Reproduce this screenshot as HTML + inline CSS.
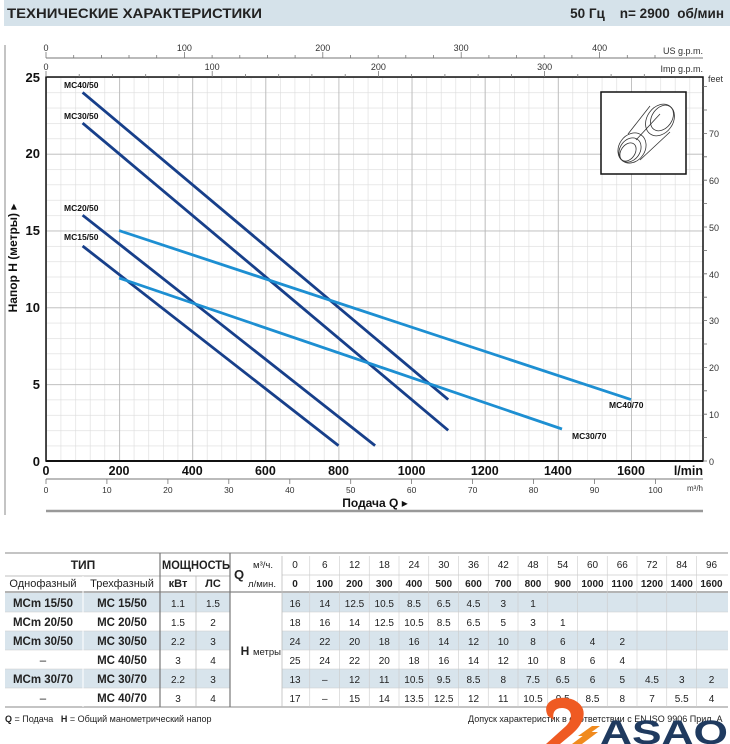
<!DOCTYPE html>
<html><head><meta charset="utf-8"><style>
html,body{margin:0;padding:0;background:#fff;}
svg{display:block;font-family:"Liberation Sans","DejaVu Sans",sans-serif;}
</style></head><body>
<svg width="730" height="744" viewBox="0 0 730 744" xmlns="http://www.w3.org/2000/svg">
<defs>
<pattern id="mn" patternUnits="userSpaceOnUse" x="46" y="77" width="14.625" height="15.36">
<path d="M0,0 V15.36 M0,0 H14.625" stroke="#dcdcdc" stroke-width="1.2" fill="none"/>
</pattern>
<pattern id="mj" patternUnits="userSpaceOnUse" x="46" y="77" width="73.125" height="76.8">
<path d="M0,0 V76.8 M0,0 H73.125" stroke="#b5b5b5" stroke-width="1.6" fill="none"/>
</pattern>
</defs>
<rect x="4" y="0" width="726" height="26" fill="#d5e2ea"/>
<text x="7" y="18" font-size="13.5" font-weight="bold" fill="#222" textLength="255" lengthAdjust="spacingAndGlyphs">ТЕХНИЧЕСКИЕ ХАРАКТЕРИСТИКИ</text>
<text x="724" y="18" font-size="13.5" font-weight="bold" fill="#222" text-anchor="end" xml:space="preserve">50 Гц    n= 2900  об/мин</text>
<line x1="5" y1="45" x2="5" y2="515" stroke="#888" stroke-width="1"/>

<!-- plot grid -->
<rect x="46" y="77" width="657" height="384" fill="url(#mn)"/>
<rect x="46" y="77" width="657" height="384" fill="url(#mj)"/>
<rect x="46" y="77" width="657" height="384" fill="none" stroke="#111" stroke-width="1.5"/>
<line x1="46" y1="461" x2="703" y2="461" stroke="#111" stroke-width="2"/>

<!-- y labels -->
<g font-size="13" font-weight="bold" text-anchor="end" fill="#111">
<text x="40" y="466">0</text><text x="40" y="389">5</text><text x="40" y="312">10</text>
<text x="40" y="235">15</text><text x="40" y="158">20</text><text x="40" y="82">25</text>
</g>
<text transform="translate(17,258) rotate(-90)" font-size="12" font-weight="bold" text-anchor="middle" fill="#111">Напор H (метры) ▸</text>

<!-- feet axis -->
<path d="M703,461h4M703,437.6h4M703,414.2h4M703,390.8h4M703,367.4h4M703,344h4M703,320.6h4M703,297.2h4M703,273.8h4M703,250.4h4M703,227h4M703,203.6h4M703,180.2h4M703,156.8h4M703,133.4h4M703,110h4M703,86.6h4" stroke="#666" stroke-width="0.8"/>
<g font-size="9" fill="#333">
<text x="709" y="465">0</text><text x="709" y="418">10</text><text x="709" y="371">20</text>
<text x="709" y="324">30</text><text x="709" y="278">40</text><text x="709" y="231">50</text>
<text x="709" y="184">60</text><text x="709" y="137">70</text><text x="708" y="82">feet</text>
</g>

<!-- US gpm axis -->
<line x1="46" y1="58" x2="703" y2="58" stroke="#777" stroke-width="1"/>
<path d="M73.7,58v-3M101.4,58v-3M129,58v-3M156.7,58v-3M212.1,58v-3M239.8,58v-3M267.4,58v-3M295.1,58v-3M350.5,58v-3M378.2,58v-3M405.8,58v-3M433.5,58v-3M488.9,58v-3M516.6,58v-3M544.2,58v-3M571.9,58v-3M627.3,58v-3M655,58v-3M46,58v-6M184.4,58v-6M322.8,58v-6M461.2,58v-6M599.6,58v-6" stroke="#777" stroke-width="0.8"/>
<g font-size="9" fill="#333" text-anchor="middle">
<text x="46" y="51">0</text><text x="184.4" y="51">100</text><text x="322.8" y="51">200</text><text x="461.2" y="51">300</text><text x="599.6" y="51">400</text>
<text x="46" y="70">0</text><text x="212.2" y="70">100</text><text x="378.4" y="70">200</text><text x="544.6" y="70">300</text>
</g>
<text x="703" y="54" font-size="9" fill="#333" text-anchor="end">US g.p.m.</text>
<text x="703" y="72" font-size="9" fill="#333" text-anchor="end">Imp g.p.m.</text>
<path d="M79.2,77v-3M112.5,77v-3M145.7,77v-3M179,77v-3M245.4,77v-3M278.7,77v-3M311.9,77v-3M345.2,77v-3M411.6,77v-3M444.9,77v-3M478.1,77v-3M511.4,77v-3M577.8,77v-3M611.1,77v-3M644.3,77v-3M46,77v-6M212.2,77v-6M378.4,77v-6M544.6,77v-6" stroke="#777" stroke-width="0.8"/>

<!-- l/min labels -->
<g font-size="12.5" font-weight="bold" text-anchor="middle" fill="#111">
<text x="46" y="475">0</text><text x="119.1" y="475">200</text><text x="192.3" y="475">400</text>
<text x="265.4" y="475">600</text><text x="338.5" y="475">800</text><text x="411.6" y="475">1000</text>
<text x="484.8" y="475">1200</text><text x="557.9" y="475">1400</text><text x="631" y="475">1600</text>
<text x="703" y="475" text-anchor="end">l/min</text>
</g>

<!-- m3/h axis -->
<line x1="46" y1="479" x2="703" y2="479" stroke="#777" stroke-width="1"/>
<path d="M46,479v5M106.9,479v5M167.9,479v5M228.8,479v5M289.8,479v5M350.7,479v5M411.6,479v5M472.6,479v5M533.5,479v5M594.5,479v5M655.4,479v5" stroke="#777" stroke-width="0.8"/>
<g font-size="8.5" fill="#333" text-anchor="middle">
<text x="46" y="493">0</text><text x="106.9" y="493">10</text><text x="167.9" y="493">20</text>
<text x="228.8" y="493">30</text><text x="289.8" y="493">40</text><text x="350.7" y="493">50</text>
<text x="411.6" y="493">60</text><text x="472.6" y="493">70</text><text x="533.5" y="493">80</text>
<text x="594.5" y="493">90</text><text x="655.4" y="493">100</text>
</g>
<text x="703" y="491" font-size="8" fill="#333" text-anchor="end">m³/h</text>
<text x="375" y="507" font-size="12" font-weight="bold" text-anchor="middle" fill="#111">Подача Q ▸</text>
<line x1="46" y1="511" x2="703" y2="511" stroke="#999" stroke-width="2.5"/>

<!-- inset -->
<rect x="601" y="92" width="85" height="82" fill="#fff" stroke="#111" stroke-width="1.5"/>
<g fill="none" stroke="#333" stroke-width="0.8">
<ellipse cx="660" cy="120" rx="13" ry="17" transform="rotate(35 660 120)"/>
<ellipse cx="662" cy="118" rx="10" ry="14" transform="rotate(35 662 118)"/>
<path d="M628,134 L650,106 M640,160 L670,132 M636,140 L660,114"/>
<ellipse cx="632" cy="148" rx="13" ry="16" transform="rotate(35 632 148)"/>
<ellipse cx="630" cy="150" rx="10" ry="13" transform="rotate(35 630 150)"/>
<ellipse cx="628" cy="152" rx="7" ry="10" transform="rotate(35 628 152)"/>
</g>

<!-- curves -->
<g stroke-width="2.8" stroke-linecap="butt">
<line x1="82.6" y1="92.4" x2="448.2" y2="399.6" stroke="#173f8a"/>
<line x1="82.6" y1="123.1" x2="448.2" y2="430.3" stroke="#173f8a"/>
<line x1="82.6" y1="215.2" x2="375.1" y2="445.6" stroke="#173f8a"/>
<line x1="82.6" y1="246" x2="338.5" y2="445.6" stroke="#173f8a"/>
<line x1="119.1" y1="230.6" x2="631" y2="399.6" stroke="#1d8fd2"/>
<line x1="119.1" y1="278" x2="562" y2="429" stroke="#1d8fd2"/>
</g>
<g font-size="8.5" font-weight="bold" fill="#111">
<text x="64" y="88">MC40/50</text><text x="64" y="119">MC30/50</text>
<text x="64" y="211">MC20/50</text><text x="64" y="240">MC15/50</text>
<text x="609" y="408">MC40/70</text><text x="572" y="439">MC30/70</text>
</g>

<!-- table -->
<g fill="#d8e4ec">
<rect x="5" y="593" width="225" height="19"/><rect x="282" y="593" width="446" height="19"/>
<rect x="5" y="631" width="225" height="19"/><rect x="282" y="631" width="446" height="19"/>
<rect x="5" y="669" width="225" height="19"/><rect x="282" y="669" width="446" height="19"/>
</g>
<line x1="5" y1="553" x2="728" y2="553" stroke="#888"/>
<line x1="5" y1="576" x2="230" y2="576" stroke="#aaa" stroke-width="0.8"/>
<line x1="282" y1="575" x2="728" y2="575" stroke="#ccc" stroke-width="0.8"/>
<line x1="5" y1="592" x2="728" y2="592" stroke="#888" stroke-width="1.2"/>
<path d="M5,612H230M5,631H230M5,650H230M5,669H230M5,688H230M282,612H728M282,631H728M282,650H728M282,669H728M282,688H728" stroke="#ccc" stroke-width="0.6"/>
<line x1="5" y1="707" x2="728" y2="707" stroke="#888"/>
<path d="M160,553V707M230,553V707" stroke="#777" stroke-width="1.2"/>
<path d="M196,576V707M282,556V707" stroke="#bbb" stroke-width="0.8"/>
<line x1="83" y1="576" x2="83" y2="707" stroke="#fff"/>
<path d="M309.75,556V707M339.5,556V707M369.25,556V707M399,556V707M428.75,556V707M458.5,556V707M488.25,556V707M518,556V707M547.75,556V707M577.5,556V707M607.25,556V707M637,556V707M666.75,556V707M696.5,556V707" stroke="#ccc" stroke-width="0.6"/>

<g text-anchor="middle" fill="#222" font-size="11">
<text x="83" y="569" font-weight="bold" font-size="12">ТИП</text>
<text x="196" y="569" font-weight="bold" font-size="12" textLength="68" lengthAdjust="spacingAndGlyphs">МОЩНОСТЬ</text>
<text x="43" y="587">Однофазный</text><text x="122" y="587">Трехфазный</text>
<text x="178" y="587" font-weight="bold">кВт</text><text x="213" y="587" font-weight="bold">ЛС</text>
<text x="239" y="579" font-weight="bold" font-size="13">Q</text>
<text x="263" y="568" font-size="9.5">м³/ч.</text><text x="262" y="587" font-size="9.5">л/мин.</text>
<text x="245" y="655" font-weight="bold" font-size="12">H</text><text x="267" y="655" font-size="9.5">метры</text>
</g>
<g text-anchor="middle" fill="#222" font-size="10">
<text y="568"><tspan x="295">0</tspan><tspan x="324.75">6</tspan><tspan x="354.5">12</tspan><tspan x="384.25">18</tspan><tspan x="414">24</tspan><tspan x="443.75">30</tspan><tspan x="473.5">36</tspan><tspan x="503.25">42</tspan><tspan x="533">48</tspan><tspan x="562.75">54</tspan><tspan x="592.5">60</tspan><tspan x="622.25">66</tspan><tspan x="652">72</tspan><tspan x="681.75">84</tspan><tspan x="711.5">96</tspan></text>
<text y="587" font-weight="bold"><tspan x="295">0</tspan><tspan x="324.75">100</tspan><tspan x="354.5">200</tspan><tspan x="384.25">300</tspan><tspan x="414">400</tspan><tspan x="443.75">500</tspan><tspan x="473.5">600</tspan><tspan x="503.25">700</tspan><tspan x="533">800</tspan><tspan x="562.75">900</tspan><tspan x="592.5">1000</tspan><tspan x="622.25">1100</tspan><tspan x="652">1200</tspan><tspan x="681.75">1400</tspan><tspan x="711.5">1600</tspan></text>
<text y="607"><tspan x="295">16</tspan><tspan x="324.75">14</tspan><tspan x="354.5">12.5</tspan><tspan x="384.25">10.5</tspan><tspan x="414">8.5</tspan><tspan x="443.75">6.5</tspan><tspan x="473.5">4.5</tspan><tspan x="503.25">3</tspan><tspan x="533">1</tspan></text>
<text y="626"><tspan x="295">18</tspan><tspan x="324.75">16</tspan><tspan x="354.5">14</tspan><tspan x="384.25">12.5</tspan><tspan x="414">10.5</tspan><tspan x="443.75">8.5</tspan><tspan x="473.5">6.5</tspan><tspan x="503.25">5</tspan><tspan x="533">3</tspan><tspan x="562.75">1</tspan></text>
<text y="645"><tspan x="295">24</tspan><tspan x="324.75">22</tspan><tspan x="354.5">20</tspan><tspan x="384.25">18</tspan><tspan x="414">16</tspan><tspan x="443.75">14</tspan><tspan x="473.5">12</tspan><tspan x="503.25">10</tspan><tspan x="533">8</tspan><tspan x="562.75">6</tspan><tspan x="592.5">4</tspan><tspan x="622.25">2</tspan></text>
<text y="664"><tspan x="295">25</tspan><tspan x="324.75">24</tspan><tspan x="354.5">22</tspan><tspan x="384.25">20</tspan><tspan x="414">18</tspan><tspan x="443.75">16</tspan><tspan x="473.5">14</tspan><tspan x="503.25">12</tspan><tspan x="533">10</tspan><tspan x="562.75">8</tspan><tspan x="592.5">6</tspan><tspan x="622.25">4</tspan></text>
<text y="683"><tspan x="295">13</tspan><tspan x="324.75">–</tspan><tspan x="354.5">12</tspan><tspan x="384.25">11</tspan><tspan x="414">10.5</tspan><tspan x="443.75">9.5</tspan><tspan x="473.5">8.5</tspan><tspan x="503.25">8</tspan><tspan x="533">7.5</tspan><tspan x="562.75">6.5</tspan><tspan x="592.5">6</tspan><tspan x="622.25">5</tspan><tspan x="652">4.5</tspan><tspan x="681.75">3</tspan><tspan x="711.5">2</tspan></text>
<text y="702"><tspan x="295">17</tspan><tspan x="324.75">–</tspan><tspan x="354.5">15</tspan><tspan x="384.25">14</tspan><tspan x="414">13.5</tspan><tspan x="443.75">12.5</tspan><tspan x="473.5">12</tspan><tspan x="503.25">11</tspan><tspan x="533">10.5</tspan><tspan x="562.75">9.5</tspan><tspan x="592.5">8.5</tspan><tspan x="622.25">8</tspan><tspan x="652">7</tspan><tspan x="681.75">5.5</tspan><tspan x="711.5">4</tspan></text>
<text y="607"><tspan x="178">1.1</tspan><tspan x="213">1.5</tspan></text>
<text y="626"><tspan x="178">1.5</tspan><tspan x="213">2</tspan></text>
<text y="645"><tspan x="178">2.2</tspan><tspan x="213">3</tspan></text>
<text y="664"><tspan x="178">3</tspan><tspan x="213">4</tspan></text>
<text y="683"><tspan x="178">2.2</tspan><tspan x="213">3</tspan></text>
<text y="702"><tspan x="178">3</tspan><tspan x="213">4</tspan></text>
</g>
<g text-anchor="middle" fill="#222" font-size="11.5" font-weight="bold">
<text x="43" y="607">MCm 15/50</text><text x="122" y="607">MC 15/50</text>
<text x="43" y="626">MCm 20/50</text><text x="122" y="626">MC 20/50</text>
<text x="43" y="645">MCm 30/50</text><text x="122" y="645">MC 30/50</text>
<text x="43" y="664" font-weight="normal">–</text><text x="122" y="664">MC 40/50</text>
<text x="43" y="683">MCm 30/70</text><text x="122" y="683">MC 30/70</text>
<text x="43" y="702" font-weight="normal">–</text><text x="122" y="702">MC 40/70</text>
</g>
<text x="5" y="722" font-size="9" fill="#222" xml:space="preserve"><tspan font-weight="bold">Q</tspan> = Подача   <tspan font-weight="bold">H</tspan> = Общий манометрический напор</text>
<text x="468" y="722" font-size="9" fill="#222">Допуск характеристик в соответствии с EN ISO 9906 Прил. A</text>

<!-- logo -->
<path d="M548,716 C540,700 560,694 574,700 C590,708 584,724 572,734 L560,744 L546,744 L566,726 C574,718 572,708 562,708 C554,708 552,714 554,720 Z" fill="#ef5a22"/>
<path d="M578,736 L592,726 L600,726 L586,736 Z M572,744 L588,732 L598,732 L582,744 Z" fill="#f08a1d"/>
<text x="600" y="744" font-size="34" font-weight="bold" fill="#1f3a5f" textLength="128" lengthAdjust="spacingAndGlyphs">ASAO</text>
</svg>
</body></html>
